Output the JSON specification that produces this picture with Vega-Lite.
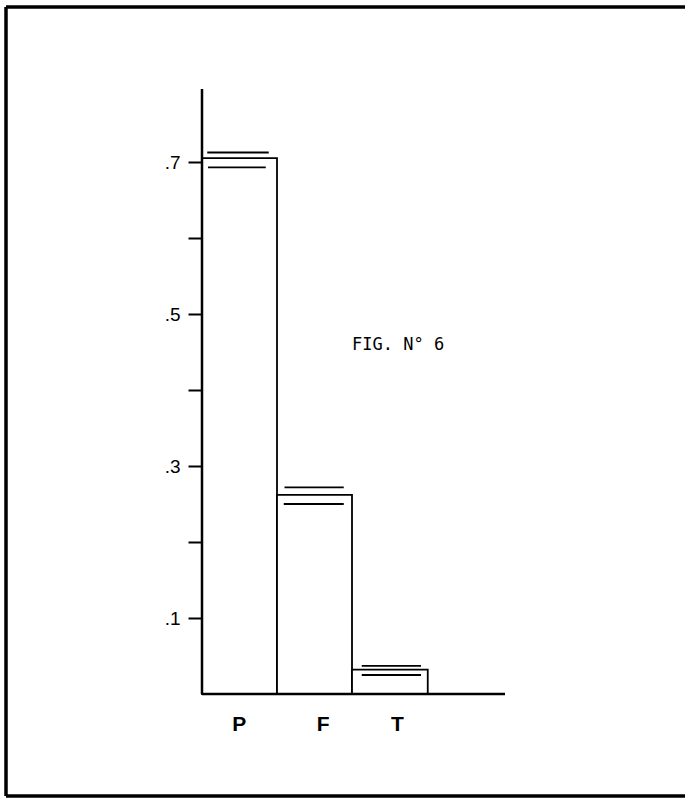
{
  "$schema": "https://vega.github.io/schema/vega-lite/v6.json",
  "width": 679,
  "height": 789,
  "autosize": {"type": "none"},
  "padding": {"left": 6, "top": 7, "right": 0, "bottom": 2},
  "background": "white",
  "config": {"view": {"stroke": "transparent", "strokeWidth": 0}, "font": "Liberation Sans"},
  "datasets": {
    "bars": [
      {"cat": "P", "start": 0, "end": 1, "value": 0.705},
      {"cat": "F", "start": 1, "end": 2, "value": 0.262},
      {"cat": "T", "start": 2, "end": 3.01, "value": 0.032}
    ],
    "errs": [
      {"cat": "P", "x1": 0.07, "x2": 0.89, "y": 0.7125},
      {"cat": "P", "x1": 0.08, "x2": 0.85, "y": 0.693},
      {"cat": "F", "x1": 1.1, "x2": 1.89, "y": 0.272},
      {"cat": "F", "x1": 1.09, "x2": 1.89, "y": 0.25},
      {"cat": "T", "x1": 2.13, "x2": 2.92, "y": 0.037},
      {"cat": "T", "x1": 2.13, "x2": 2.92, "y": 0.025}
    ],
    "axislines": [
      {"x": 0, "x2": 0, "y": 0, "y2": 0.796},
      {"x": 0, "x2": 4.04, "y": 0, "y2": 0}
    ],
    "frame": [
      {"x": -2.6133, "x2": -2.6133, "y": -0.13421, "y2": 0.90395},
      {"x": -2.6133, "x2": 6.45, "y": 0.90395, "y2": 0.90395},
      {"x": -2.6133, "x2": 6.45, "y": -0.13421, "y2": -0.13421}
    ],
    "note": [{"label": "FIG.  N° 6", "x": 2.0, "y": 0.459}]
  },
  "layer": [
    {
      "data": {"name": "bars"},
      "mark": {"type": "rect", "fill": "white", "stroke": "black", "strokeWidth": 1.8},
      "encoding": {
        "x": {
          "field": "start", "type": "quantitative",
          "scale": {"domain": [-2.6133, 6.44], "nice": false, "zero": false},
          "axis": {
            "orient": "bottom", "offset": -102, "values": [0.49, 1.61, 2.6],
            "labelExpr": "datum.value < 1 ? 'P' : (datum.value < 2 ? 'F' : 'T')",
            "domain": false, "ticks": false, "grid": false, "labelPadding": 19,
            "labelFontSize": 21, "labelFontWeight": "bold", "labelColor": "black", "title": null
          }
        },
        "x2": {"field": "end"},
        "y": {
          "field": "value", "type": "quantitative",
          "scale": {"domain": [-0.13421, 0.90395], "nice": false, "zero": false},
          "axis": {
            "orient": "left", "offset": -196,
            "values": [0.1, 0.2, 0.3, 0.4, 0.5, 0.6, 0.7],
            "labelExpr": "round(datum.value * 10) % 2 == 1 ? '.' + round(datum.value * 10) : ''",
            "domain": false, "grid": false, "tickSize": 14, "tickWidth": 2, "tickColor": "black",
            "labelFontSize": 19, "labelPadding": 8, "labelColor": "black", "title": null
          }
        },
        "y2": {"datum": 0}
      }
    },
    {
      "data": {"name": "errs"},
      "mark": {"type": "rule", "stroke": "black", "strokeWidth": 1.8},
      "encoding": {
        "x": {"field": "x1", "type": "quantitative"},
        "x2": {"field": "x2"},
        "y": {"field": "y", "type": "quantitative"}
      }
    },
    {
      "data": {"name": "axislines"},
      "mark": {"type": "rule", "stroke": "black", "strokeWidth": 2.5},
      "encoding": {
        "x": {"field": "x", "type": "quantitative"},
        "x2": {"field": "x2"},
        "y": {"field": "y", "type": "quantitative"},
        "y2": {"field": "y2"}
      }
    },
    {
      "data": {"name": "frame"},
      "mark": {"type": "rule", "stroke": "black", "strokeWidth": 3.5},
      "encoding": {
        "x": {"field": "x", "type": "quantitative"},
        "x2": {"field": "x2"},
        "y": {"field": "y", "type": "quantitative"},
        "y2": {"field": "y2"}
      }
    },
    {
      "data": {"name": "note"},
      "mark": {"type": "text", "align": "left", "baseline": "middle", "font": "DejaVu Sans Mono", "fontSize": 17, "color": "black"},
      "encoding": {
        "x": {"field": "x", "type": "quantitative"},
        "y": {"field": "y", "type": "quantitative"},
        "text": {"field": "label"}
      }
    }
  ]
}
